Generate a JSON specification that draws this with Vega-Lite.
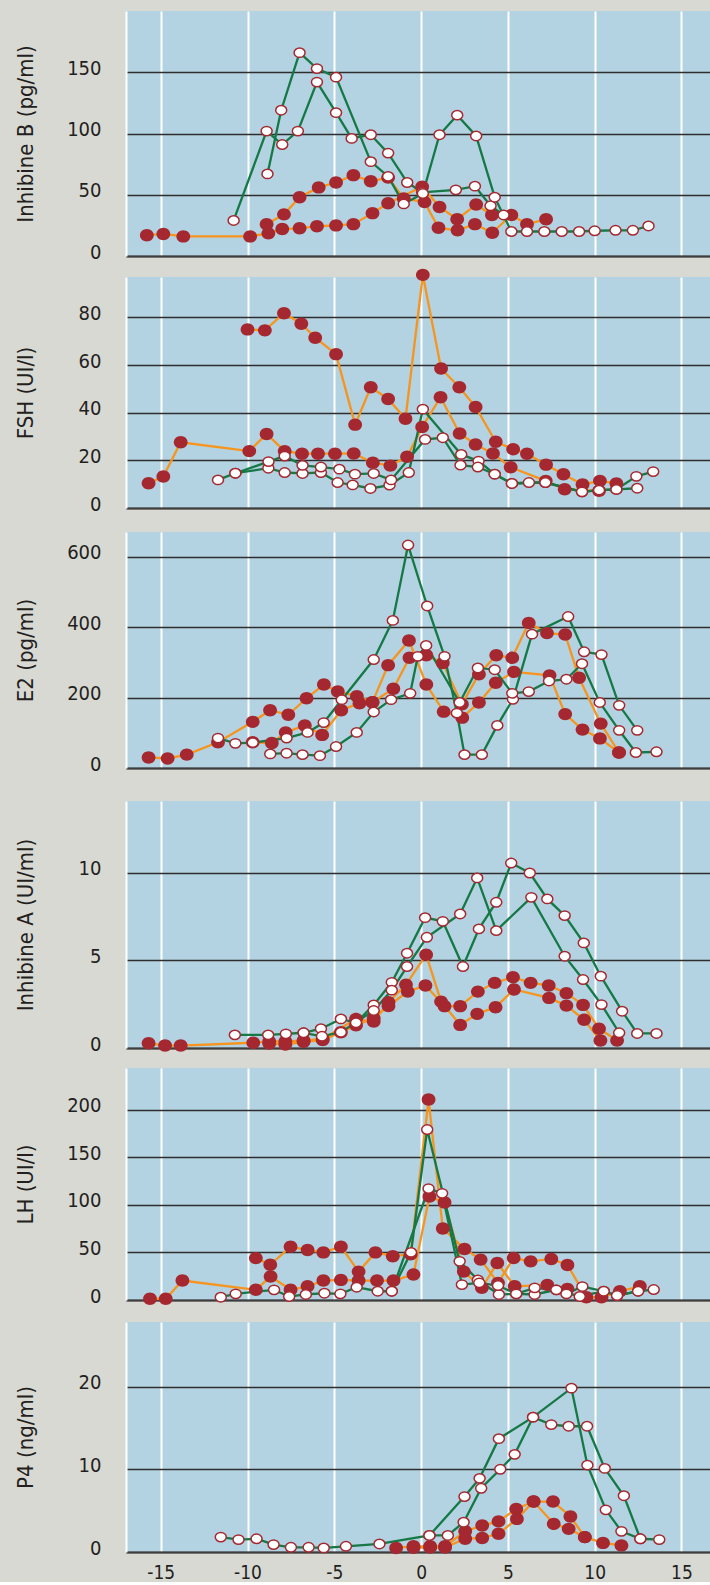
{
"$schema": "https://vega.github.io/schema/vega-lite/v6.json",
"background": "#d9d9d4",
"padding": {"left": 14, "top": 11, "right": 0, "bottom": 0},
"spacing": 0,
"config": {
  "view": {"fill": "#b4d3e2", "stroke": null},
  "axisX": {"domainColor": "#3d3d3d", "domainWidth": 2, "ticks": false, "grid": true, "gridColor": "#ffffff", "gridWidth": 2, "labels": false, "labelFont": "Liberation Sans Narrow, Arial Narrow, DejaVu Sans Condensed, Roboto Condensed, Roboto, sans-serif", "labelFontSize": 19, "labelColor": "#231f20", "labelPadding": 11, "labelFlush": false, "labelExpr": "'' + datum.value"},
  "axisY": {"domain": true, "domainColor": "#ffffff", "domainWidth": 2, "ticks": false, "grid": true, "gridColor": "#2e2e2e", "gridWidth": 1.3, "labelFont": "Liberation Sans Narrow, Arial Narrow, DejaVu Sans Condensed, Roboto Condensed, Roboto, sans-serif", "labelFontSize": 20, "labelColor": "#231f20", "labelPadding": 25, "labelOffset": -4, "labelOverlap": false, "titleFont": "Liberation Sans Narrow, Arial Narrow, DejaVu Sans Condensed, Roboto Condensed, Roboto, sans-serif", "titleFontSize": 22, "titleFontWeight": "normal", "titleColor": "#231f20", "titlePadding": 39, "minExtent": 50, "maxExtent": 50}
},
"datasets": {
"inhB": [
{"s":1,"g":"B","d":-8.9,"v":26},{"s":1,"g":"B","d":-7.9,"v":34},{"s":1,"g":"B","d":-7.0,"v":48},{"s":1,"g":"B","d":-5.9,"v":56},{"s":1,"g":"B","d":-4.9,"v":60},{"s":1,"g":"B","d":-3.9,"v":66},{"s":1,"g":"B","d":-2.9,"v":61},{"s":1,"g":"B","d":-1.9,"v":64},{"s":1,"g":"B","d":-1.0,"v":47},{"s":1,"g":"B","d":0.2,"v":44},{"s":1,"g":"B","d":1.0,"v":23},{"s":1,"g":"B","d":2.1,"v":21},{"s":1,"g":"B","d":3.1,"v":26},{"s":1,"g":"B","d":4.1,"v":19},{"s":1,"g":"B","d":5.2,"v":33.5},{"s":1,"g":"B","d":6.1,"v":26},{"s":1,"g":"B","d":7.2,"v":30},
{"s":2,"g":"B","d":-15.8,"v":17},{"s":2,"g":"B","d":-14.85,"v":18},{"s":2,"g":"B","d":-13.7,"v":16},{"s":2,"g":"B","d":-9.85,"v":16},{"s":2,"g":"B","d":-8.8,"v":18.5},{"s":2,"g":"B","d":-8.0,"v":22},{"s":2,"g":"B","d":-7.0,"v":22.6},{"s":2,"g":"B","d":-6.0,"v":24.3},{"s":2,"g":"B","d":-4.9,"v":25},{"s":2,"g":"B","d":-3.9,"v":26},{"s":2,"g":"B","d":-2.8,"v":35},{"s":2,"g":"B","d":-1.9,"v":43},{"s":2,"g":"B","d":0.06,"v":56.6},{"s":2,"g":"B","d":1.06,"v":40},{"s":2,"g":"B","d":2.08,"v":30},{"s":2,"g":"B","d":3.17,"v":42},{"s":2,"g":"B","d":4.08,"v":33.5},
{"s":3,"g":"A","d":-10.8,"v":29},{"s":3,"g":"A","d":-8.9,"v":102},{"s":3,"g":"A","d":-8.0,"v":91},{"s":3,"g":"A","d":-7.1,"v":102},{"s":3,"g":"A","d":-6.0,"v":142},{"s":3,"g":"A","d":-4.9,"v":117},{"s":3,"g":"A","d":-4.0,"v":96},{"s":3,"g":"A","d":-2.9,"v":99},{"s":3,"g":"A","d":-1.9,"v":84},{"s":3,"g":"A","d":-0.8,"v":60},{"s":3,"g":"A","d":0.06,"v":52},{"s":3,"g":"A","d":2.0,"v":54},{"s":3,"g":"A","d":3.1,"v":57},{"s":3,"g":"A","d":4.0,"v":41},{"s":3,"g":"A","d":4.75,"v":33.5},
{"s":4,"g":"A","d":-8.85,"v":67},{"s":4,"g":"A","d":-8.06,"v":119},{"s":4,"g":"A","d":-7.0,"v":166},{"s":4,"g":"A","d":-6.0,"v":153},{"s":4,"g":"A","d":-4.9,"v":146},{"s":4,"g":"A","d":-2.9,"v":77},{"s":4,"g":"A","d":-1.9,"v":65},{"s":4,"g":"A","d":-1.0,"v":42.5},{"s":4,"g":"A","d":0.1,"v":51},{"s":4,"g":"A","d":1.06,"v":99},{"s":4,"g":"A","d":2.08,"v":115},{"s":4,"g":"A","d":3.17,"v":98},{"s":4,"g":"A","d":4.24,"v":48},{"s":4,"g":"A","d":5.2,"v":20},{"s":4,"g":"A","d":6.1,"v":20},{"s":4,"g":"A","d":7.1,"v":20},{"s":4,"g":"A","d":8.1,"v":20},{"s":4,"g":"A","d":9.1,"v":20},{"s":4,"g":"A","d":10.0,"v":20.6},{"s":4,"g":"A","d":11.2,"v":21},{"s":4,"g":"A","d":12.2,"v":21},{"s":4,"g":"A","d":13.1,"v":24.5}
],
"fsh": [
{"s":1,"g":"B","d":-10.0,"v":75},{"s":1,"g":"B","d":-9.0,"v":74.6},{"s":1,"g":"B","d":-7.9,"v":81.8},{"s":1,"g":"B","d":-6.9,"v":77.4},{"s":1,"g":"B","d":-6.1,"v":71.5},{"s":1,"g":"B","d":-4.9,"v":64.6},{"s":1,"g":"B","d":-3.8,"v":35},{"s":1,"g":"B","d":-2.9,"v":50.7},{"s":1,"g":"B","d":-1.9,"v":45.8},{"s":1,"g":"B","d":-0.9,"v":37.5},{"s":1,"g":"B","d":0.1,"v":97.9},{"s":1,"g":"B","d":1.15,"v":58.6},{"s":1,"g":"B","d":2.2,"v":50.7},{"s":1,"g":"B","d":3.14,"v":42.4},{"s":1,"g":"B","d":4.3,"v":27.8},{"s":1,"g":"B","d":5.3,"v":24.7},{"s":1,"g":"B","d":6.1,"v":22.8},{"s":1,"g":"B","d":7.2,"v":18.2},{"s":1,"g":"B","d":8.2,"v":14.2},{"s":1,"g":"B","d":9.3,"v":9.9},{"s":1,"g":"B","d":10.3,"v":11.4},{"s":1,"g":"B","d":11.25,"v":10.3},
{"s":2,"g":"B","d":-15.7,"v":10.4},{"s":2,"g":"B","d":-14.85,"v":13.2},{"s":2,"g":"B","d":-13.85,"v":27.6},{"s":2,"g":"B","d":-9.9,"v":23.9},{"s":2,"g":"B","d":-8.9,"v":31.1},{"s":2,"g":"B","d":-7.86,"v":23.9},{"s":2,"g":"B","d":-6.86,"v":22.8},{"s":2,"g":"B","d":-5.94,"v":22.8},{"s":2,"g":"B","d":-4.96,"v":22.8},{"s":2,"g":"B","d":-3.88,"v":22.9},{"s":2,"g":"B","d":-2.78,"v":19},{"s":2,"g":"B","d":-1.77,"v":17.8},{"s":2,"g":"B","d":-0.81,"v":21.5},{"s":2,"g":"B","d":0.06,"v":34},{"s":2,"g":"B","d":1.12,"v":46.5},{"s":2,"g":"B","d":2.22,"v":31.3},{"s":2,"g":"B","d":3.14,"v":26.7},{"s":2,"g":"B","d":4.14,"v":22.9},{"s":2,"g":"B","d":5.16,"v":17.1},{"s":2,"g":"B","d":7.18,"v":11.4},{"s":2,"g":"B","d":8.27,"v":7.9},{"s":2,"g":"B","d":10.25,"v":7.2},
{"s":3,"g":"A","d":-11.7,"v":11.8},{"s":3,"g":"A","d":-10.7,"v":14.6},{"s":3,"g":"A","d":-8.8,"v":16.7},{"s":3,"g":"A","d":-7.86,"v":14.9},{"s":3,"g":"A","d":-6.83,"v":14.5},{"s":3,"g":"A","d":-5.77,"v":14.9},{"s":3,"g":"A","d":-4.81,"v":10.7},{"s":3,"g":"A","d":-3.94,"v":9.7},{"s":3,"g":"A","d":-2.92,"v":8.2},{"s":3,"g":"A","d":-1.82,"v":9.6},{"s":3,"g":"A","d":-0.71,"v":14.9},{"s":3,"g":"A","d":0.1,"v":41.5},{"s":3,"g":"A","d":2.31,"v":22.5},{"s":3,"g":"A","d":3.31,"v":19.7},{"s":3,"g":"A","d":4.24,"v":14.2},{"s":3,"g":"A","d":5.23,"v":10.3},{"s":3,"g":"A","d":6.21,"v":10.7},{"s":3,"g":"A","d":7.16,"v":10.7},{"s":3,"g":"A","d":9.27,"v":6.8},{"s":3,"g":"A","d":10.25,"v":7.5},{"s":3,"g":"A","d":11.25,"v":7.8},{"s":3,"g":"A","d":12.4,"v":13.3},{"s":3,"g":"A","d":13.37,"v":15.3},
{"s":4,"g":"A","d":-10.7,"v":14.6},{"s":4,"g":"A","d":-8.79,"v":19.5},{"s":4,"g":"A","d":-7.86,"v":21.8},{"s":4,"g":"A","d":-6.83,"v":17.9},{"s":4,"g":"A","d":-5.77,"v":17.2},{"s":4,"g":"A","d":-4.71,"v":16.3},{"s":4,"g":"A","d":-3.81,"v":14.2},{"s":4,"g":"A","d":-2.73,"v":14.5},{"s":4,"g":"A","d":-1.73,"v":11.8},{"s":4,"g":"A","d":0.23,"v":28.8},{"s":4,"g":"A","d":1.25,"v":29.5},{"s":4,"g":"A","d":2.27,"v":18},{"s":4,"g":"A","d":3.27,"v":17.2},{"s":4,"g":"A","d":4.24,"v":14.2},{"s":4,"g":"A","d":5.23,"v":10.3},{"s":4,"g":"A","d":7.16,"v":10.7},{"s":4,"g":"A","d":9.27,"v":6.8},{"s":4,"g":"A","d":10.25,"v":7.5},{"s":4,"g":"A","d":11.25,"v":7.8},{"s":4,"g":"A","d":12.45,"v":8.3}
],
"e2": [
{"s":1,"g":"B","d":-15.7,"v":30},{"s":1,"g":"B","d":-14.6,"v":27},{"s":1,"g":"B","d":-13.5,"v":38},{"s":1,"g":"B","d":-11.7,"v":73},{"s":1,"g":"B","d":-9.7,"v":131},{"s":1,"g":"B","d":-8.7,"v":164},{"s":1,"g":"B","d":-7.65,"v":151},{"s":1,"g":"B","d":-6.6,"v":198},{"s":1,"g":"B","d":-5.6,"v":237},{"s":1,"g":"B","d":-4.8,"v":217},{"s":1,"g":"B","d":-3.7,"v":204},{"s":1,"g":"B","d":-2.8,"v":187},{"s":1,"g":"B","d":-1.9,"v":292},{"s":1,"g":"B","d":-0.7,"v":362},{"s":1,"g":"B","d":0.3,"v":237},{"s":1,"g":"B","d":1.3,"v":160},{"s":1,"g":"B","d":2.37,"v":143},{"s":1,"g":"B","d":3.33,"v":186},{"s":1,"g":"B","d":4.3,"v":242},{"s":1,"g":"B","d":5.35,"v":273},{"s":1,"g":"B","d":7.4,"v":263},{"s":1,"g":"B","d":8.3,"v":153},{"s":1,"g":"B","d":9.3,"v":109},{"s":1,"g":"B","d":10.3,"v":84},{"s":1,"g":"B","d":11.4,"v":44},
{"s":2,"g":"B","d":-9.7,"v":73},{"s":2,"g":"B","d":-8.6,"v":71},{"s":2,"g":"B","d":-7.8,"v":101},{"s":2,"g":"B","d":-6.7,"v":121},{"s":2,"g":"B","d":-5.7,"v":94},{"s":2,"g":"B","d":-4.6,"v":164},{"s":2,"g":"B","d":-3.55,"v":184},{"s":2,"g":"B","d":-2.8,"v":187},{"s":2,"g":"B","d":-1.6,"v":225},{"s":2,"g":"B","d":-0.67,"v":313},{"s":2,"g":"B","d":0.3,"v":320},{"s":2,"g":"B","d":1.25,"v":298},{"s":2,"g":"B","d":2.35,"v":181},{"s":2,"g":"B","d":3.33,"v":266},{"s":2,"g":"B","d":4.33,"v":320},{"s":2,"g":"B","d":5.25,"v":313},{"s":2,"g":"B","d":6.2,"v":412},{"s":2,"g":"B","d":7.25,"v":383},{"s":2,"g":"B","d":8.3,"v":379},{"s":2,"g":"B","d":9.1,"v":256},{"s":2,"g":"B","d":10.35,"v":126},{"s":2,"g":"B","d":11.4,"v":44},
{"s":3,"g":"A","d":-11.7,"v":85},{"s":3,"g":"A","d":-10.7,"v":70},{"s":3,"g":"A","d":-9.7,"v":72},{"s":3,"g":"A","d":-7.75,"v":85},{"s":3,"g":"A","d":-6.54,"v":101},{"s":3,"g":"A","d":-5.61,"v":129},{"s":3,"g":"A","d":-4.57,"v":194},{"s":3,"g":"A","d":-2.73,"v":308},{"s":3,"g":"A","d":-1.63,"v":419},{"s":3,"g":"A","d":-0.75,"v":633},{"s":3,"g":"A","d":0.35,"v":460},{"s":3,"g":"A","d":1.35,"v":317},{"s":3,"g":"A","d":2.06,"v":156},{"s":3,"g":"A","d":2.5,"v":38},{"s":3,"g":"A","d":3.5,"v":38},{"s":3,"g":"A","d":4.39,"v":121},{"s":3,"g":"A","d":5.29,"v":195},{"s":3,"g":"A","d":6.39,"v":380},{"s":3,"g":"A","d":8.47,"v":430},{"s":3,"g":"A","d":9.39,"v":330},{"s":3,"g":"A","d":10.39,"v":322},{"s":3,"g":"A","d":11.41,"v":178},{"s":3,"g":"A","d":12.45,"v":107},
{"s":4,"g":"A","d":-8.69,"v":40},{"s":4,"g":"A","d":-7.75,"v":42},{"s":4,"g":"A","d":-6.83,"v":38},{"s":4,"g":"A","d":-5.83,"v":35},{"s":4,"g":"A","d":-4.9,"v":61},{"s":4,"g":"A","d":-3.71,"v":101},{"s":4,"g":"A","d":-2.73,"v":159},{"s":4,"g":"A","d":-1.73,"v":194},{"s":4,"g":"A","d":-0.63,"v":212},{"s":4,"g":"A","d":-0.19,"v":317},{"s":4,"g":"A","d":0.29,"v":348},{"s":4,"g":"A","d":2.22,"v":186},{"s":4,"g":"A","d":3.27,"v":284},{"s":4,"g":"A","d":4.24,"v":279},{"s":4,"g":"A","d":5.25,"v":212},{"s":4,"g":"A","d":6.2,"v":217},{"s":4,"g":"A","d":7.37,"v":247},{"s":4,"g":"A","d":8.37,"v":252},{"s":4,"g":"A","d":9.27,"v":296},{"s":4,"g":"A","d":10.29,"v":186},{"s":4,"g":"A","d":11.41,"v":107},{"s":4,"g":"A","d":12.37,"v":44},{"s":4,"g":"A","d":13.56,"v":46}
],
"inhA": [
{"s":1,"g":"B","d":-15.7,"v":0.27},{"s":1,"g":"B","d":-14.75,"v":0.14},{"s":1,"g":"B","d":-13.85,"v":0.14},{"s":1,"g":"B","d":-9.67,"v":0.3},{"s":1,"g":"B","d":-8.75,"v":0.37},{"s":1,"g":"B","d":-7.82,"v":0.37},{"s":1,"g":"B","d":-6.77,"v":0.43},{"s":1,"g":"B","d":-5.67,"v":0.52},{"s":1,"g":"B","d":-3.75,"v":1.66},{"s":1,"g":"B","d":-2.73,"v":1.51},{"s":1,"g":"B","d":-1.88,"v":2.61},{"s":1,"g":"B","d":-0.87,"v":3.62},{"s":1,"g":"B","d":0.29,"v":5.33},{"s":1,"g":"B","d":1.15,"v":2.65},{"s":1,"g":"B","d":2.25,"v":1.32},{"s":1,"g":"B","d":3.23,"v":1.95},{"s":1,"g":"B","d":4.29,"v":2.33},{"s":1,"g":"B","d":5.35,"v":3.34},{"s":1,"g":"B","d":7.37,"v":2.86},{"s":1,"g":"B","d":8.37,"v":2.42},{"s":1,"g":"B","d":9.39,"v":1.61},{"s":1,"g":"B","d":10.33,"v":0.43},
{"s":2,"g":"B","d":-8.75,"v":0.25},{"s":2,"g":"B","d":-7.82,"v":0.2},{"s":2,"g":"B","d":-6.77,"v":0.35},{"s":2,"g":"B","d":-5.67,"v":0.45},{"s":2,"g":"B","d":-4.62,"v":0.9},{"s":2,"g":"B","d":-3.75,"v":1.3},{"s":2,"g":"B","d":-2.73,"v":1.7},{"s":2,"g":"B","d":-1.88,"v":2.4},{"s":2,"g":"B","d":-0.77,"v":3.22},{"s":2,"g":"B","d":0.25,"v":3.57},{"s":2,"g":"B","d":1.35,"v":2.39},{"s":2,"g":"B","d":2.25,"v":2.39},{"s":2,"g":"B","d":3.27,"v":3.22},{"s":2,"g":"B","d":4.24,"v":3.72},{"s":2,"g":"B","d":5.29,"v":4.04},{"s":2,"g":"B","d":6.31,"v":3.72},{"s":2,"g":"B","d":7.35,"v":3.57},{"s":2,"g":"B","d":8.37,"v":3.13},{"s":2,"g":"B","d":9.33,"v":2.46},{"s":2,"g":"B","d":10.25,"v":1.1},{"s":2,"g":"B","d":11.29,"v":0.43},
{"s":3,"g":"A","d":-10.73,"v":0.75},{"s":3,"g":"A","d":-8.81,"v":0.75},{"s":3,"g":"A","d":-7.79,"v":0.81},{"s":3,"g":"A","d":-6.77,"v":0.87},{"s":3,"g":"A","d":-5.77,"v":1.1},{"s":3,"g":"A","d":-4.62,"v":1.66},{"s":3,"g":"A","d":-3.75,"v":1.44},{"s":3,"g":"A","d":-2.73,"v":2.46},{"s":3,"g":"A","d":-1.69,"v":3.75},{"s":3,"g":"A","d":-0.81,"v":5.41},{"s":3,"g":"A","d":0.23,"v":7.44},{"s":3,"g":"A","d":1.25,"v":7.23},{"s":3,"g":"A","d":2.41,"v":4.65},{"s":3,"g":"A","d":3.33,"v":6.8},{"s":3,"g":"A","d":4.33,"v":8.32},{"s":3,"g":"A","d":5.19,"v":10.56},{"s":3,"g":"A","d":6.26,"v":9.99},{"s":3,"g":"A","d":7.27,"v":8.51},{"s":3,"g":"A","d":8.27,"v":7.56},{"s":3,"g":"A","d":9.37,"v":6.0},{"s":3,"g":"A","d":10.35,"v":4.1},{"s":3,"g":"A","d":11.58,"v":2.1},{"s":3,"g":"A","d":12.45,"v":0.83},{"s":3,"g":"A","d":13.56,"v":0.83},
{"s":4,"g":"A","d":-6.77,"v":0.87},{"s":4,"g":"A","d":-5.71,"v":0.67},{"s":4,"g":"A","d":-4.62,"v":0.9},{"s":4,"g":"A","d":-2.73,"v":2.14},{"s":4,"g":"A","d":-1.69,"v":3.3},{"s":4,"g":"A","d":-0.81,"v":4.65},{"s":4,"g":"A","d":0.33,"v":6.32},{"s":4,"g":"A","d":2.25,"v":7.65},{"s":4,"g":"A","d":3.23,"v":9.71},{"s":4,"g":"A","d":4.33,"v":6.7},{"s":4,"g":"A","d":6.35,"v":8.6},{"s":4,"g":"A","d":8.27,"v":5.24},{"s":4,"g":"A","d":9.33,"v":3.91},{"s":4,"g":"A","d":10.39,"v":2.48},{"s":4,"g":"A","d":11.41,"v":0.87}
],
"lh": [
{"s":1,"g":"B","d":-9.52,"v":44},{"s":1,"g":"B","d":-8.69,"v":37},{"s":1,"g":"B","d":-7.52,"v":56},{"s":1,"g":"B","d":-6.54,"v":52.5},{"s":1,"g":"B","d":-5.63,"v":50},{"s":1,"g":"B","d":-4.62,"v":56},{"s":1,"g":"B","d":-3.6,"v":29.8},{"s":1,"g":"B","d":-2.63,"v":50},{"s":1,"g":"B","d":-1.63,"v":46},{"s":1,"g":"B","d":-0.6,"v":48},{"s":1,"g":"B","d":0.43,"v":210.5},{"s":1,"g":"B","d":1.25,"v":75},{"s":1,"g":"B","d":2.5,"v":53.6},{"s":1,"g":"B","d":3.43,"v":42.4},{"s":1,"g":"B","d":4.43,"v":18},{"s":1,"g":"B","d":5.33,"v":44.1},{"s":1,"g":"B","d":6.31,"v":40.6},{"s":1,"g":"B","d":7.5,"v":43.1},{"s":1,"g":"B","d":8.43,"v":36.8},{"s":1,"g":"B","d":9.52,"v":2.9},{"s":1,"g":"B","d":10.39,"v":2.9},{"s":1,"g":"B","d":11.45,"v":9.2},{"s":1,"g":"B","d":12.6,"v":14.4},
{"s":2,"g":"B","d":-15.62,"v":1.3},{"s":2,"g":"B","d":-14.71,"v":1.3},{"s":2,"g":"B","d":-13.75,"v":20.4},{"s":2,"g":"B","d":-9.52,"v":10.7},{"s":2,"g":"B","d":-8.67,"v":24.6},{"s":2,"g":"B","d":-7.52,"v":10.7},{"s":2,"g":"B","d":-6.54,"v":14.4},{"s":2,"g":"B","d":-5.63,"v":20.4},{"s":2,"g":"B","d":-4.62,"v":21.1},{"s":2,"g":"B","d":-3.6,"v":20.4},{"s":2,"g":"B","d":-2.54,"v":20.4},{"s":2,"g":"B","d":-1.59,"v":20.4},{"s":2,"g":"B","d":-0.44,"v":26.7},{"s":2,"g":"B","d":0.48,"v":108.6},{"s":2,"g":"B","d":1.35,"v":102.3},{"s":2,"g":"B","d":2.46,"v":29.8},{"s":2,"g":"B","d":3.5,"v":12.8},{"s":2,"g":"B","d":4.39,"v":38.9},{"s":2,"g":"B","d":5.39,"v":14.4},{"s":2,"g":"B","d":7.27,"v":15.9},{"s":2,"g":"B","d":8.43,"v":11.7},
{"s":3,"g":"A","d":-11.54,"v":2.9},{"s":3,"g":"A","d":-10.68,"v":6.5},{"s":3,"g":"A","d":-8.47,"v":10.7},{"s":3,"g":"A","d":-7.6,"v":3.7},{"s":3,"g":"A","d":-6.64,"v":5.8},{"s":3,"g":"A","d":-5.57,"v":7.1},{"s":3,"g":"A","d":-4.65,"v":6.5},{"s":3,"g":"A","d":-3.71,"v":13.4},{"s":3,"g":"A","d":-2.5,"v":9.2},{"s":3,"g":"A","d":-1.69,"v":9.2},{"s":3,"g":"A","d":-0.58,"v":50},{"s":3,"g":"A","d":0.35,"v":179},{"s":3,"g":"A","d":2.22,"v":40.6},{"s":3,"g":"A","d":3.27,"v":21.1},{"s":3,"g":"A","d":4.48,"v":5.8},{"s":3,"g":"A","d":5.48,"v":6.5},{"s":3,"g":"A","d":6.54,"v":5.8},{"s":3,"g":"A","d":7.79,"v":10.7},{"s":3,"g":"A","d":8.37,"v":6.5},{"s":3,"g":"A","d":9.29,"v":14.1},{"s":3,"g":"A","d":10.52,"v":9.2},{"s":3,"g":"A","d":11.29,"v":4.7},{"s":3,"g":"A","d":12.5,"v":9.2},{"s":3,"g":"A","d":13.4,"v":11},
{"s":4,"g":"A","d":-1.69,"v":9.2},{"s":4,"g":"A","d":0.43,"v":117},{"s":4,"g":"A","d":1.21,"v":112},{"s":4,"g":"A","d":2.35,"v":16.2},{"s":4,"g":"A","d":3.35,"v":18},{"s":4,"g":"A","d":4.43,"v":15.2},{"s":4,"g":"A","d":5.48,"v":6.5},{"s":4,"g":"A","d":6.54,"v":12.8},{"s":4,"g":"A","d":7.79,"v":10.7},{"s":4,"g":"A","d":9.14,"v":3.7},{"s":4,"g":"A","d":10.52,"v":9.2},{"s":4,"g":"A","d":11.29,"v":4.7},{"s":4,"g":"A","d":12.5,"v":9.2}
],
"p4": [
{"s":1,"g":"B","d":-1.44,"v":0.49},{"s":1,"g":"B","d":-0.44,"v":0.69},{"s":1,"g":"B","d":0.52,"v":0.69},{"s":1,"g":"B","d":1.38,"v":0.69},{"s":1,"g":"B","d":2.54,"v":2.5},{"s":1,"g":"B","d":3.52,"v":3.2},{"s":1,"g":"B","d":4.46,"v":3.7},{"s":1,"g":"B","d":5.48,"v":5.2},{"s":1,"g":"B","d":6.48,"v":6.1},{"s":1,"g":"B","d":7.64,"v":3.4},{"s":1,"g":"B","d":8.5,"v":2.8},{"s":1,"g":"B","d":9.43,"v":1.8},{"s":1,"g":"B","d":10.48,"v":1.1},{"s":1,"g":"B","d":11.54,"v":0.8},
{"s":2,"g":"B","d":-0.44,"v":0.5},{"s":2,"g":"B","d":0.52,"v":0.55},{"s":2,"g":"B","d":1.38,"v":0.55},{"s":2,"g":"B","d":2.54,"v":1.6},{"s":2,"g":"B","d":3.52,"v":1.7},{"s":2,"g":"B","d":4.46,"v":2.2},{"s":2,"g":"B","d":5.52,"v":4.0},{"s":2,"g":"B","d":6.48,"v":6.1},{"s":2,"g":"B","d":7.6,"v":6.1},{"s":2,"g":"B","d":8.6,"v":4.3},{"s":2,"g":"B","d":9.43,"v":1.8},
{"s":3,"g":"A","d":-11.54,"v":1.8},{"s":3,"g":"A","d":-10.52,"v":1.5},{"s":3,"g":"A","d":-9.48,"v":1.6},{"s":3,"g":"A","d":-8.5,"v":0.9},{"s":3,"g":"A","d":-7.5,"v":0.57},{"s":3,"g":"A","d":-6.48,"v":0.57},{"s":3,"g":"A","d":-5.61,"v":0.49},{"s":3,"g":"A","d":-4.33,"v":0.69},{"s":3,"g":"A","d":-2.4,"v":0.97},{"s":3,"g":"A","d":0.48,"v":2.0},{"s":3,"g":"A","d":2.5,"v":6.7},{"s":3,"g":"A","d":3.37,"v":8.9},{"s":3,"g":"A","d":4.48,"v":13.7},{"s":3,"g":"A","d":6.45,"v":16.3},{"s":3,"g":"A","d":8.66,"v":19.8},{"s":3,"g":"A","d":9.58,"v":10.5},{"s":3,"g":"A","d":10.64,"v":5.1},{"s":3,"g":"A","d":11.54,"v":2.5},{"s":3,"g":"A","d":12.63,"v":1.6},{"s":3,"g":"A","d":13.72,"v":1.5},
{"s":4,"g":"A","d":0.48,"v":2.0},{"s":4,"g":"A","d":1.54,"v":2.0},{"s":4,"g":"A","d":2.45,"v":3.6},{"s":4,"g":"A","d":3.46,"v":7.7},{"s":4,"g":"A","d":4.56,"v":10},{"s":4,"g":"A","d":5.39,"v":11.8},{"s":4,"g":"A","d":6.45,"v":16.3},{"s":4,"g":"A","d":7.5,"v":15.4},{"s":4,"g":"A","d":8.5,"v":15.2},{"s":4,"g":"A","d":9.56,"v":15.2},{"s":4,"g":"A","d":10.58,"v":10.1},{"s":4,"g":"A","d":11.68,"v":6.8},{"s":4,"g":"A","d":12.63,"v":1.6}
]
},
"vconcat": [
{
 "width": 585, "height": 245,
 "data": {"name": "inhB"},
 "encoding": {
  "x": {"field": "d", "type": "quantitative", "scale": {"domain": [-17, 16.7], "nice": false, "zero": false}, "axis": {"title": null, "values": [-15,-10,-5,0,5,10,15], "minExtent": 12, "maxExtent": 12}},
  "y": {"field": "v", "type": "quantitative", "scale": {"domain": [0, 200], "nice": false}, "axis": {"title": "Inhibine B (pg/ml)", "values": [0,50,100,150]}}
 },
 "layer": [
  {"transform": [{"filter": "datum.g == 'B'"}], "mark": {"type": "line", "color": "#f6941e", "strokeWidth": 2.3}, "encoding": {"detail": {"field": "s"}}},
  {"transform": [{"filter": "datum.g == 'A'"}], "mark": {"type": "line", "color": "#157845", "strokeWidth": 2.3}, "encoding": {"detail": {"field": "s"}}},
  {"transform": [{"filter": "datum.g == 'B'"}], "mark": {"type": "point", "shape": "M-1,0A1,0.9,0,1,1,1,0A1,0.9,0,1,1,-1,0Z", "filled": true, "fill": "#a52830", "strokeWidth": 0, "size": 190, "opacity": 1}},
  {"transform": [{"filter": "datum.g == 'A'"}], "mark": {"type": "point", "shape": "M-1,0A1,0.85,0,1,1,1,0A1,0.85,0,1,1,-1,0Z", "filled": true, "fill": "#ffffff", "stroke": "#a52830", "strokeWidth": 1.5, "size": 121, "opacity": 1}}
 ]
},
{
 "width": 585, "height": 231,
 "data": {"name": "fsh"},
 "encoding": {
  "x": {"field": "d", "type": "quantitative", "scale": {"domain": [-17, 16.7], "nice": false, "zero": false}, "axis": {"title": null, "values": [-15,-10,-5,0,5,10,15], "minExtent": 24, "maxExtent": 24}},
  "y": {"field": "v", "type": "quantitative", "scale": {"domain": [0, 97], "nice": false}, "axis": {"title": "FSH (UI/l)", "values": [0,20,40,60,80]}}
 },
 "layer": [
  {"transform": [{"filter": "datum.g == 'B'"}], "mark": {"type": "line", "color": "#f6941e", "strokeWidth": 2.3}, "encoding": {"detail": {"field": "s"}}},
  {"transform": [{"filter": "datum.g == 'A'"}], "mark": {"type": "line", "color": "#157845", "strokeWidth": 2.3}, "encoding": {"detail": {"field": "s"}}},
  {"transform": [{"filter": "datum.g == 'B'"}], "mark": {"type": "point", "shape": "M-1,0A1,0.9,0,1,1,1,0A1,0.9,0,1,1,-1,0Z", "filled": true, "fill": "#a52830", "strokeWidth": 0, "size": 190, "opacity": 1}},
  {"transform": [{"filter": "datum.g == 'A'"}], "mark": {"type": "point", "shape": "M-1,0A1,0.85,0,1,1,1,0A1,0.85,0,1,1,-1,0Z", "filled": true, "fill": "#ffffff", "stroke": "#a52830", "strokeWidth": 1.5, "size": 121, "opacity": 1}}
 ]
},
{
 "width": 585, "height": 236,
 "data": {"name": "e2"},
 "encoding": {
  "x": {"field": "d", "type": "quantitative", "scale": {"domain": [-17, 16.7], "nice": false, "zero": false}, "axis": {"title": null, "values": [-15,-10,-5,0,5,10,15], "minExtent": 32.7, "maxExtent": 32.7}},
  "y": {"field": "v", "type": "quantitative", "scale": {"domain": [0, 670], "nice": false}, "axis": {"title": "E2 (pg/ml)", "values": [0,200,400,600]}}
 },
 "layer": [
  {"transform": [{"filter": "datum.g == 'B'"}], "mark": {"type": "line", "color": "#f6941e", "strokeWidth": 2.3}, "encoding": {"detail": {"field": "s"}}},
  {"transform": [{"filter": "datum.g == 'A'"}], "mark": {"type": "line", "color": "#157845", "strokeWidth": 2.3}, "encoding": {"detail": {"field": "s"}}},
  {"transform": [{"filter": "datum.g == 'B'"}], "mark": {"type": "point", "shape": "M-1,0A1,0.9,0,1,1,1,0A1,0.9,0,1,1,-1,0Z", "filled": true, "fill": "#a52830", "strokeWidth": 0, "size": 190, "opacity": 1}},
  {"transform": [{"filter": "datum.g == 'A'"}], "mark": {"type": "point", "shape": "M-1,0A1,0.85,0,1,1,1,0A1,0.85,0,1,1,-1,0Z", "filled": true, "fill": "#ffffff", "stroke": "#a52830", "strokeWidth": 1.5, "size": 121, "opacity": 1}}
 ]
},
{
 "width": 585, "height": 247,
 "data": {"name": "inhA"},
 "encoding": {
  "x": {"field": "d", "type": "quantitative", "scale": {"domain": [-17, 16.7], "nice": false, "zero": false}, "axis": {"title": null, "values": [-15,-10,-5,0,5,10,15], "minExtent": 20, "maxExtent": 20}},
  "y": {"field": "v", "type": "quantitative", "scale": {"domain": [0, 14.1], "nice": false}, "axis": {"title": "Inhibine A (UI/ml)", "values": [0,5,10]}}
 },
 "layer": [
  {"transform": [{"filter": "datum.g == 'B'"}], "mark": {"type": "line", "color": "#f6941e", "strokeWidth": 2.3}, "encoding": {"detail": {"field": "s"}}},
  {"transform": [{"filter": "datum.g == 'A'"}], "mark": {"type": "line", "color": "#157845", "strokeWidth": 2.3}, "encoding": {"detail": {"field": "s"}}},
  {"transform": [{"filter": "datum.g == 'B'"}], "mark": {"type": "point", "shape": "M-1,0A1,0.9,0,1,1,1,0A1,0.9,0,1,1,-1,0Z", "filled": true, "fill": "#a52830", "strokeWidth": 0, "size": 190, "opacity": 1}},
  {"transform": [{"filter": "datum.g == 'A'"}], "mark": {"type": "point", "shape": "M-1,0A1,0.85,0,1,1,1,0A1,0.85,0,1,1,-1,0Z", "filled": true, "fill": "#ffffff", "stroke": "#a52830", "strokeWidth": 1.5, "size": 121, "opacity": 1}}
 ]
},
{
 "width": 585, "height": 232,
 "data": {"name": "lh"},
 "encoding": {
  "x": {"field": "d", "type": "quantitative", "scale": {"domain": [-17, 16.7], "nice": false, "zero": false}, "axis": {"title": null, "values": [-15,-10,-5,0,5,10,15], "minExtent": 22, "maxExtent": 22}},
  "y": {"field": "v", "type": "quantitative", "scale": {"domain": [0, 243.6], "nice": false}, "axis": {"title": "LH (UI/l)", "values": [0,50,100,150,200]}}
 },
 "layer": [
  {"transform": [{"filter": "datum.g == 'B'"}], "mark": {"type": "line", "color": "#f6941e", "strokeWidth": 2.3}, "encoding": {"detail": {"field": "s"}}},
  {"transform": [{"filter": "datum.g == 'A'"}], "mark": {"type": "line", "color": "#157845", "strokeWidth": 2.3}, "encoding": {"detail": {"field": "s"}}},
  {"transform": [{"filter": "datum.g == 'B'"}], "mark": {"type": "point", "shape": "M-1,0A1,0.9,0,1,1,1,0A1,0.9,0,1,1,-1,0Z", "filled": true, "fill": "#a52830", "strokeWidth": 0, "size": 190, "opacity": 1}},
  {"transform": [{"filter": "datum.g == 'A'"}], "mark": {"type": "point", "shape": "M-1,0A1,0.85,0,1,1,1,0A1,0.85,0,1,1,-1,0Z", "filled": true, "fill": "#ffffff", "stroke": "#a52830", "strokeWidth": 1.5, "size": 121, "opacity": 1}}
 ]
},
{
 "width": 585, "height": 230,
 "data": {"name": "p4"},
 "encoding": {
  "x": {"field": "d", "type": "quantitative", "scale": {"domain": [-17, 16.7], "nice": false, "zero": false}, "axis": {"title": null, "values": [-15,-10,-5,0,5,10,15], "labels": true}},
  "y": {"field": "v", "type": "quantitative", "scale": {"domain": [0, 27.8], "nice": false}, "axis": {"title": "P4 (ng/ml)", "values": [0,10,20]}}
 },
 "layer": [
  {"transform": [{"filter": "datum.g == 'B'"}], "mark": {"type": "line", "color": "#f6941e", "strokeWidth": 2.3}, "encoding": {"detail": {"field": "s"}}},
  {"transform": [{"filter": "datum.g == 'A'"}], "mark": {"type": "line", "color": "#157845", "strokeWidth": 2.3}, "encoding": {"detail": {"field": "s"}}},
  {"transform": [{"filter": "datum.g == 'B'"}], "mark": {"type": "point", "shape": "M-1,0A1,0.9,0,1,1,1,0A1,0.9,0,1,1,-1,0Z", "filled": true, "fill": "#a52830", "strokeWidth": 0, "size": 190, "opacity": 1}},
  {"transform": [{"filter": "datum.g == 'A'"}], "mark": {"type": "point", "shape": "M-1,0A1,0.85,0,1,1,1,0A1,0.85,0,1,1,-1,0Z", "filled": true, "fill": "#ffffff", "stroke": "#a52830", "strokeWidth": 1.5, "size": 121, "opacity": 1}}
 ]
}
]
}
